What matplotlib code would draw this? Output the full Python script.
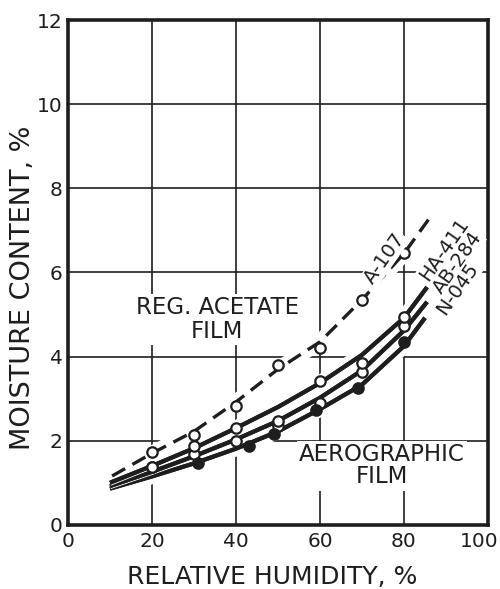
import matplotlib
matplotlib.use("Agg")
import matplotlib.pyplot as plt
import matplotlib.patheffects as pe
from matplotlib.transforms import ScaledTranslation

# Measured data points (relative humidity %, moisture content %)
rh_pts = [20, 30, 40, 50, 60, 70, 80]
a107_pts = [1.73, 2.14, 2.83, 3.80, 4.20, 5.34, 6.46]
ha411_pts = [1.38, 1.88, 2.30, 2.47, 3.42, 3.85, 4.94]
ab284_pts = [1.38, 1.69, 2.00, 2.35, 2.90, 3.63, 4.73]
n045_rh = [31, 43, 49, 59, 69, 80]
n045_pts = [1.47, 1.88, 2.16, 2.73, 3.25, 4.35]

# Smoothed curves drawn through each film's data
a107_curve_rh = [10.5, 20, 30, 40, 50, 60, 70, 80, 86]
a107_curve = [1.16, 1.70, 2.22, 2.92, 3.70, 4.35, 5.35, 6.45, 7.28]
ha411_curve_rh = [10, 20, 30, 40, 50, 60, 70, 80, 85.5]
ha411_curve = [1.00, 1.40, 1.82, 2.30, 2.80, 3.37, 4.04, 4.92, 5.65]
ab284_curve_rh = [10, 20, 30, 40, 50, 60, 70, 80, 85.5]
ab284_curve = [0.92, 1.26, 1.63, 2.03, 2.47, 3.02, 3.67, 4.62, 5.30]
n045_curve_rh = [10, 20, 30, 40, 50, 60, 70, 80, 85]
n045_curve = [0.86, 1.15, 1.46, 1.81, 2.22, 2.75, 3.33, 4.25, 4.92]

x_ticks = [0, 20, 40, 60, 80, 100]
y_ticks = [0, 2, 4, 6, 8, 10, 12]

ink = "#1e1e1e"
plt.rcParams["font.family"] = ["DejaVu Sans"]

fig = plt.figure(figsize=(5.0, 5.89), dpi=100)
ax = fig.add_axes([0.136, 0.109, 0.840, 0.857])
ax.set_xlim(0, 100)
ax.set_ylim(0, 12)
ax.set_xticks(x_ticks)
ax.set_yticks(y_ticks)
ax.tick_params(length=0, labelsize=14.5, colors=ink)
ax.tick_params(axis="x", pad=5)
ax.tick_params(axis="y", pad=4)
ax.set_xticklabels([str(v) for v in x_ticks])
ax.set_yticklabels([str(v) for v in y_ticks])
# keep the last x label inside the figure
last = ax.get_xticklabels()[-1]
last.set_transform(last.get_transform() + ScaledTranslation(-9 / 100, 0, fig.dpi_scale_trans))
ax.grid(True, color=ink, linewidth=1.2, zorder=0.5)
ax.set_axisbelow(True)
for s in ax.spines.values():
    s.set_linewidth(2.6)
    s.set_color(ink)

curves = [
    (a107_curve_rh, a107_curve),
    (ha411_curve_rh, ha411_curve),
    (ab284_curve_rh, ab284_curve),
    (n045_curve_rh, n045_curve),
]
# white clearance so grid lines break around the curves
for cx, cy in curves:
    ax.plot(cx, cy, color="white", lw=11, solid_capstyle="round", zorder=1.5)

# dashed regular acetate curve
ax.plot(a107_curve_rh, a107_curve, color=ink, lw=2.4, dashes=(4.5, 2.5), zorder=3)

# three aerographic film curves, each with a thin white edge
halo = [pe.withStroke(linewidth=4.4, foreground="white"), pe.Normal()]
for cx, cy in [(n045_curve_rh, n045_curve), (ab284_curve_rh, ab284_curve),
               (ha411_curve_rh, ha411_curve)]:
    ax.plot(cx, cy, color=ink, lw=3.0, zorder=3, path_effects=halo,
            solid_capstyle="butt")

mk = dict(ms=7.5, mew=1.6, mec=ink, linestyle="none", zorder=4)
ax.plot(rh_pts, a107_pts, marker="o", mfc="white", **mk)
ax.plot(rh_pts, ab284_pts, marker="o", mfc="white", **mk)
ax.plot(rh_pts, ha411_pts, marker="o", mfc="white", **mk)
ax.plot(n045_rh, n045_pts, marker="o", mfc=ink, **mk)

box = dict(facecolor="white", edgecolor="none", pad=1.5)
ax.text(35.5, 4.87, "REG. ACETATE\nFILM", ha="center", va="center",
        fontsize=16.5, color=ink, linespacing=1.05, bbox=box, zorder=5)
ax.text(74.8, 1.40, "AEROGRAPHIC\nFILM", ha="center", va="center",
        fontsize=16.5, color=ink, linespacing=0.95, bbox=box, zorder=5)

lab = dict(ha="center", va="center", fontsize=14, color=ink, rotation=55,
           rotation_mode="anchor", zorder=5,
           bbox=dict(facecolor="white", edgecolor="none", pad=0.5))
ax.text(75.5, 6.34, "A-107", **lab)
ax.text(89.6, 6.55, "HA-411", **lab)
ax.text(92.8, 6.22, "AB-284", **lab)
ax.text(92.8, 5.60, "N-045", **lab)

fig.text(23 / 500, 1 - 288 / 589, "MOISTURE CONTENT, %", rotation=90,
         ha="center", va="center", fontsize=19.5, color=ink)
fig.text(272 / 500, 1 - 577 / 589, "RELATIVE HUMIDITY, %", ha="center",
         va="center", fontsize=18, color=ink)

fig.savefig("out.png", dpi=100)
